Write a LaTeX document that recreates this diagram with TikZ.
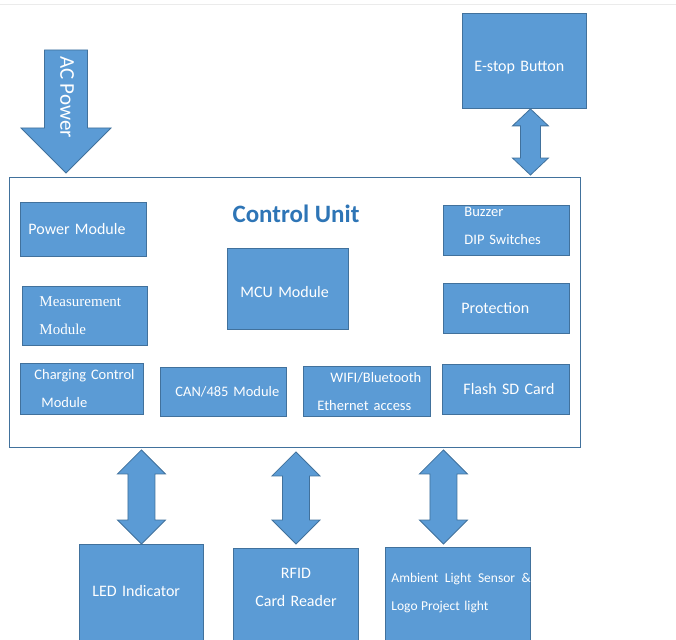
\documentclass[tikz,border=0pt]{standalone}
\usepackage{fontspec}
\setmainfont{Carlito}
\newfontfamily\timesfont{Liberation Serif}
\usetikzlibrary{calc,positioning}

\definecolor{blkfill}{HTML}{5B9BD5}
\definecolor{blkline}{HTML}{41719C}
\definecolor{titleblue}{HTML}{2E75B6}

\newcommand\bigtxt{\fontsize{16pt}{28pt}\selectfont}
\newcommand\midtxt{\fontsize{14.5pt}{28pt}\selectfont}

% fat double arrow: top point, bottom point, head half width, shaft half width, head length
\newcommand\fatboth[5]{%
  \draw[fatarrow] let \p1 = (#1), \p2 = (#2) in
    (\x1,\y1) -- (\x1+#3,\y1-#5) -- (\x1+#4,\y1-#5) -- (\x1+#4,\y2+#5)
    -- (\x1+#3,\y2+#5) -- (\x1,\y2) -- (\x1-#3,\y2+#5) -- (\x1-#4,\y2+#5)
    -- (\x1-#4,\y1-#5) -- (\x1-#3,\y1-#5) -- cycle;}

\tikzset{
  blk/.style = {draw = blkline, fill = blkfill, text = white, anchor = north west,
                align = left, inner ysep = 0pt, inner xsep = 4pt, line width = 0.9pt},
  fatarrow/.style = {draw = blkline, fill = blkfill, line width = 0.8pt},
}

\begin{document}
\begin{tikzpicture}[x = 1pt, y = -1pt]
  \useasboundingbox (0,0) rectangle (676,639);
  \draw[black!8, line width = 1pt] (0,5) -- (676,5);

  % control unit and its modules
  \node[draw = blkline, line width = 0.9pt, anchor = north west, minimum width = 571pt,
        minimum height = 270pt, inner sep = 0pt] (cu) at (9,177) {};
  \node[text = titleblue, font = \fontsize{25pt}{30pt}\selectfont\bfseries] (title) at (296,214) {Control Unit};

  \node[blk, font = \bigtxt, minimum height = 54pt, text width = 118pt] (power) at (20,202) {\hspace*{4pt}Power Module};
  \node[blk, font = \timesfont\fontsize{15pt}{28pt}\selectfont, minimum height = 59pt, text width = 117pt] (meas) at (22,286) {\hspace*{13pt}Measurement\\\hspace*{13pt}Module};
  \node[blk, font = \midtxt, minimum height = 51pt, text width = 115pt] (charge) at (20,363) {\hspace*{10pt}Charging Control\\\hspace*{17pt}Module};
  \node[blk, font = \bigtxt, minimum height = 81pt, text width = 113pt, text height = 17pt] (mcu) at (227,248) {\hspace*{9pt}MCU Module};
  \node[blk, font = \midtxt, minimum height = 49pt, text width = 118pt] (can) at (160,367) {\hspace*{11pt}CAN/485 Module};
  \node[blk, font = \midtxt, minimum height = 50pt, text width = 119pt, text height = 0pt, text depth = 17pt] (wifi) at (303,366) {\hspace*{23pt}WIFI/Bluetooth\\\hspace*{10pt}Ethernet access};
  \node[blk, font = \midtxt, minimum height = 50pt, text width = 118pt, text height = 0pt, text depth = 27pt] (buzz) at (443,205) {\hspace*{17pt}Buzzer\\\hspace*{17pt}DIP Switches};
  \node[blk, font = \bigtxt, minimum height = 50pt, text width = 118pt] (prot) at (443,283) {\hspace*{14pt}Protection};
  \node[blk, font = \bigtxt, minimum height = 50pt, text width = 119pt] (flash) at (442,364) {\hspace*{17pt}Flash SD Card};

  % outside parts
  \node[blk, font = \bigtxt, minimum height = 95pt, text width = 116pt, text height = 26pt, text depth = 4pt] (estop) at (462,13) {\hspace*{8pt}E-stop Button};
  \node[blk, font = \bigtxt, minimum height = 100pt, text width = 116pt, text depth = 8pt] (led) at (79,544) {\hspace*{9pt}LED Indicator};
  \node[blk, font = \bigtxt, align = center, minimum height = 100pt, text width = 117pt, text height = 0pt, text depth = 39pt] (rfid) at (233,548) {RFID\\Card Reader};
  \node[blk, font = \fontsize{13.5pt}{28pt}\selectfont, minimum height = 100pt, text width = 137pt, text depth = 39pt] (amb) at (385,547) {\hspace*{2pt}\mbox{Ambient\hspace{6.5pt}Light\hspace{6.5pt}Sensor\hspace{6.5pt}\&}\\\hspace*{2pt}Logo\hspace{-1pt} Project light};

  % AC power input
  \coordinate (acin) at (66,50);
  \draw[fatarrow] let \p1 = (acin), \p2 = (acin |- cu.north) in
    (\x1-21.5pt,\y1) -- (\x1+21.5pt,\y1) -- (\x1+21.5pt,\y2+49pt) -- (\x1+45pt,\y2+49pt)
    -- (\x2,\y2+4pt) -- (\x1-45pt,\y2+49pt) -- (\x1-21.5pt,\y2+49pt) -- cycle;
  \node[text = white, rotate = -90, font = \fontsize{21pt}{24pt}\selectfont] (aclabel) at (67,97) {AC Power};

  % links
  \fatboth{[xshift = 6pt]estop.south}{[xshift = 6pt, yshift = 2pt]estop.south |- cu.north}{18pt}{10pt}{17pt}
  \fatboth{[yshift = -2pt]cu.south -| led.north}{led.north}{24pt}{13.5pt}{24pt}
  \fatboth{[yshift = -4pt]cu.south -| rfid.north}{[yshift = 4pt]rfid.north}{24pt}{13.5pt}{24pt}
  \fatboth{[xshift = -14.5pt, yshift = -2pt]cu.south -| amb.north}{[xshift = -14.5pt, yshift = 3pt]amb.north}{24pt}{13.5pt}{24pt}
\end{tikzpicture}
\end{document}
